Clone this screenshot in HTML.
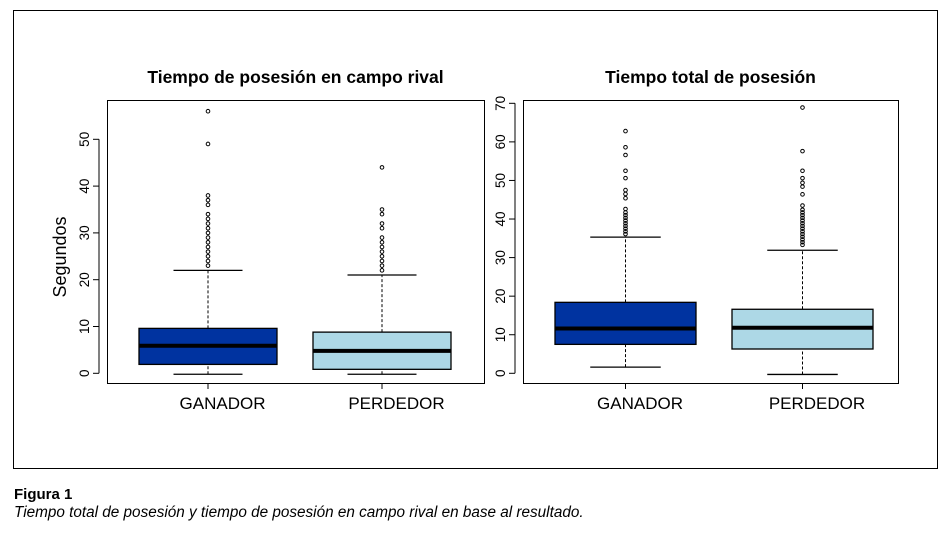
<!DOCTYPE html>
<html><head><meta charset="utf-8"><style>
html,body{margin:0;padding:0;background:#fff;}
body{width:950px;height:531px;overflow:hidden;font-family:"Liberation Sans",Arial,sans-serif;}
svg text{font-family:"Liberation Sans",Arial,sans-serif;}
</style></head><body>
<svg id="fig" width="950" height="531" xmlns="http://www.w3.org/2000/svg">
<rect x="13.5" y="10.5" width="924" height="458" fill="none" stroke="#000" stroke-width="1"/>
<text x="14" y="499" font-size="15" font-weight="bold">Figura 1</text>
<text x="14" y="517" font-size="15.3" font-style="italic">Tiempo total de posesión y tiempo de posesión en campo rival en base al resultado.</text>
<text transform="translate(66,257) rotate(-90)" font-size="18" text-anchor="middle">Segundos</text>
</svg>
<script>
const categories = ["GANADOR","PERDEDOR"];
// left panel: Tiempo de posesión en campo rival
const leftStats = [[-0.2,1.9,5.9,9.6,22],[-0.2,0.85,4.8,8.8,21]];
const leftOutliers = [[23,24,25,26,27,28,29,30,31,32,33,34,36,37,38,49,56],[22,23,24,25,26,27,28,29,31,32,34,35,44]];
const leftTicks = [0,10,20,30,40,50];
// right panel: Tiempo total de posesión
const rightStats = [[1.6,7.5,11.6,18.4,35.3],[-0.3,6.3,11.8,16.6,31.9]];
const rightOutliers = [[36.1,36.8,37.5,38.2,38.9,39.6,40.3,41,41.7,42.6,45.4,46.5,47.5,50.6,52.5,56.6,58.6,62.8],
  [33.3,34,34.7,35.4,36.1,36.8,37.5,38.2,38.9,39.6,40.3,41,41.7,42.4,43.5,46.4,48.4,49.4,50.6,52.5,57.6,68.9]];
const rightTicks = [0,10,20,30,40,50,60,70];
const colors = ["#0033a0","#add8e6"];
const NS="http://www.w3.org/2000/svg";
const svg=document.getElementById('fig');
function mk(tag,attrs,parent){const e=document.createElementNS(NS,tag);for(const k in attrs)e.setAttribute(k,attrs[k]);(parent||svg).appendChild(e);return e;}
function panel(p){
  const g=mk('g',{});
  
  
  const y=v=>p.y0-(v-0)*p.k;
  const f=mk('rect',{x:p.x0+.5,y:p.top+.5,width:p.x1-p.x0,height:p.bot-p.top,fill:'none',stroke:'#000','stroke-width':1},g);
  
  
  const t=mk('text',{x:(p.x0+p.x1)/2,y:83,'font-size':17.5,'font-weight':'bold','text-anchor':'middle'},g);
  t.textContent=p.title;
  
  
  const ax=p.x0-8;
  mk('line',{x1:ax,x2:ax,y1:y(p.ticks[0]),y2:y(p.ticks[p.ticks.length-1]),stroke:'#000'},g);
  p.ticks.forEach(v=>{
    mk('line',{x1:ax-6,x2:ax,y1:y(v),y2:y(v),stroke:'#000'},g);
    const tl=mk('text',{transform:`translate(${ax-10},${y(v)}) rotate(-90)`,'font-size':13.5,'text-anchor':'middle'},g);
    tl.textContent=v;
    
    
  });
  p.stats.forEach((s,i)=>{
    const cx=p.cx[i], hw=p.hw;
    const bg=mk('g',{},g);
    
    
    mk('line',{x1:cx,x2:cx,y1:y(s[0]),y2:y(s[1]),stroke:'#000','stroke-dasharray':'3,2'},bg);
    mk('line',{x1:cx,x2:cx,y1:y(s[3]),y2:y(s[4]),stroke:'#000','stroke-dasharray':'3,2'},bg);
    mk('line',{x1:cx-hw/2,x2:cx+hw/2,y1:y(s[0]),y2:y(s[0]),stroke:'#000','stroke-width':1.3},bg);
    mk('line',{x1:cx-hw/2,x2:cx+hw/2,y1:y(s[4]),y2:y(s[4]),stroke:'#000','stroke-width':1.3},bg);
    mk('rect',{x:cx-hw,y:y(s[3]),width:2*hw,height:y(s[1])-y(s[3]),fill:colors[i],stroke:'#000','stroke-width':1.3},bg);
    mk('line',{x1:cx-hw,x2:cx+hw,y1:y(s[2]),y2:y(s[2]),stroke:'#000','stroke-width':4},bg);
    p.out[i].forEach(v=>{
      const c=mk('circle',{cx:cx,cy:y(v),r:1.8,fill:'none',stroke:'#000','stroke-width':1},bg);
      
      
    });
    mk('line',{x1:cx,x2:cx,y1:p.bot+.5,y2:p.bot+6,stroke:'#000'},g);
    const xl=mk('text',{x:cx+14.5,y:409,'font-size':17,'text-anchor':'middle'},g);
    xl.textContent=categories[i];
    
    
  });
}
panel({name:'panel-campo-rival',title:'Tiempo de posesión en campo rival',x0:107,x1:484,top:100,bot:383,y0:373.3,k:4.68,ticks:leftTicks,stats:leftStats,out:leftOutliers,cx:[208,382],hw:69});
panel({name:'panel-tiempo-total',title:'Tiempo total de posesión',x0:523,x1:898,top:100,bot:383,y0:373.3,k:3.857,ticks:rightTicks,stats:rightStats,out:rightOutliers,cx:[625.5,802.5],hw:70.5});
</script>
</body></html>
